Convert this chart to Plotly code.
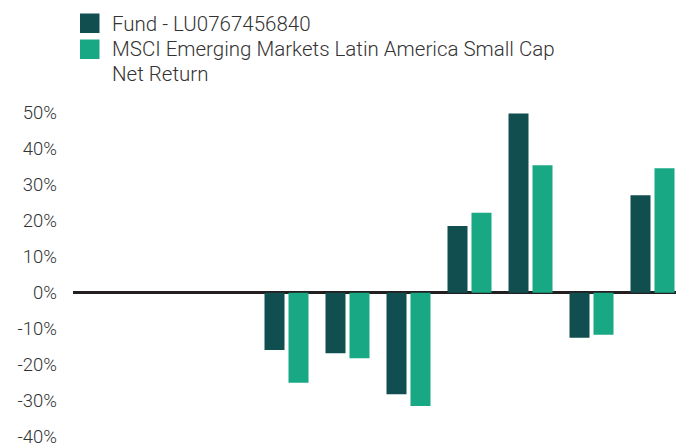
import plotly.graph_objects as go

# ---- data ----
categories = ["2010", "2011", "2012", "2013", "2014", "2015", "2016", "2017", "2018", "2019"]
fund_name = "Fund - LU0767456840"
bench_name = "MSCI Emerging Markets Latin America Small Cap Net Return"
bench_lines = ["MSCI Emerging Markets Latin America Small Cap", "Net Return"]
fund_values = [None, None, None, -15.9, -16.8, -28.2, 18.5, 49.8, -12.5, 27.1]
bench_values = [None, None, None, -25.0, -18.2, -31.5, 22.2, 35.4, -11.7, 34.6]
y_ticks = [-40, -30, -20, -10, 0, 10, 20, 30, 40, 50]
y_tick_labels = [f"{v}%" for v in y_ticks]

# ---- style ----
W, H = 676, 452          # figure a little taller than the 443px window; bottom is cropped like the reference
ML, MR, MT, MB = 73, 0, 95, 0
DARK = "#114E4F"
GREEN = "#18A884"
TEXT = "#333333"
FONT = "Roboto"
WEIGHT = 300

plot_w = W - ML - MR
plot_h = H - MT - MB
zero_px = 292.7
px_per_unit = 3.60
y_min = -(H - MB - zero_px) / px_per_unit
y_max = (zero_px - MT) / px_per_unit
cat_w = 61.0
x_min = -0.5
x_max = x_min + plot_w / cat_w

fig = go.Figure()
fig.add_trace(go.Bar(x=categories, y=fund_values, name=fund_name,
                     marker=dict(color=DARK, line=dict(width=0))))
fig.add_trace(go.Bar(x=categories, y=bench_values, name=bench_name,
                     marker=dict(color=GREEN, line=dict(width=0))))


def px_to_paper(px, py):
    return (px - ML) / plot_w, (H - MB - py) / plot_h


# manual legend
legend_items = [(DARK, 13.5, 23.5, [fund_name]), (GREEN, 39.5, 48.5, bench_lines)]
shapes = []
annotations = []
for color, top_px, text_px, lines in legend_items:
    x0, y0 = px_to_paper(80, top_px + 19.5)
    x1, y1 = px_to_paper(99.5, top_px)
    shapes.append(dict(type="rect", xref="paper", yref="paper", x0=x0, x1=x1, y0=y0, y1=y1,
                       fillcolor=color, line=dict(width=0), layer="above"))
    for i, line in enumerate(lines):
        tx, ty = px_to_paper(110, text_px + i * 25)
        annotations.append(dict(xref="paper", yref="paper", x=tx, y=ty, text=line,
                                showarrow=False, xanchor="left", yanchor="middle",
                                font=dict(family=FONT, size=20.5, color=TEXT, weight=WEIGHT)))

fig.update_layout(
    width=W, height=H,
    margin=dict(l=ML, r=MR, t=MT, b=MB, pad=0),
    paper_bgcolor="white", plot_bgcolor="white",
    barmode="group", bargap=1 - 48 / 61, bargroupgap=1 / 6,
    showlegend=False,
    shapes=shapes, annotations=annotations,
    font=dict(family=FONT, color=TEXT, weight=WEIGHT),
    xaxis=dict(range=[x_min, x_max], showticklabels=False, showgrid=False,
               zeroline=False, showline=False, ticks=""),
    yaxis=dict(range=[y_min, y_max], tickvals=y_ticks, ticktext=y_tick_labels,
               showgrid=False, showline=False, ticks="",
               zeroline=True, zerolinecolor="#231F20", zerolinewidth=3,
               tickfont=dict(family=FONT, size=18.5, color=TEXT, weight=WEIGHT),
               ticklabelstandoff=15),
)

fig.write_html(
    "out.html", config={"displayModeBar": False},
    post_script=("document.documentElement.style.overflow='hidden';"
                 "document.body.style.margin='0';document.body.style.overflow='hidden';"),
)
